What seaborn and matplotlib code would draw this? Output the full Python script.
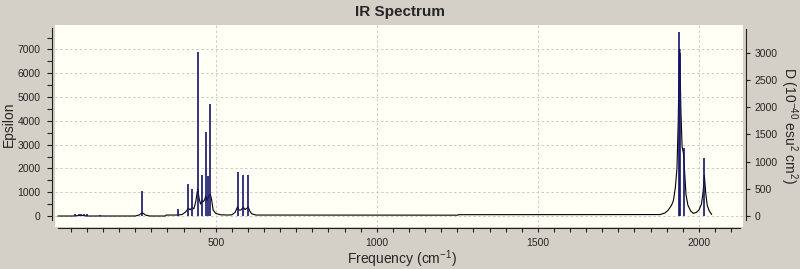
import matplotlib
matplotlib.use("Agg")
import matplotlib.pyplot as plt
import seaborn as sns
from matplotlib.ticker import FixedLocator

# ---- data ----
# stick spectrum: frequency (cm-1) and dipole strength D (1e-40 esu^2 cm^2)
stick_freq = [63, 75, 83, 92, 99, 141, 272, 382, 414, 427, 444, 458, 469, 477, 483,
              568, 586, 601, 1939, 1940, 1953, 2017]
stick_D = [40, 30, 45, 35, 40, 15, 460, 130, 594, 497, 3018, 760, 1540, 736, 2061,
           810, 754, 760, 3380, 3000, 1250, 1073]

# broadened spectrum (Epsilon) key points
curve_freq = [10, 60, 75, 85, 100, 250, 262, 272, 282, 295, 344, 346, 380, 395, 405,
              412, 415, 420, 427, 432, 438, 444, 449, 453, 458, 462, 466, 469, 473, 477,
              480, 483, 487, 492, 500, 515, 540, 550, 560, 565, 568, 572, 578, 583, 586,
              591, 597, 601, 606, 612, 625, 1252, 1254, 1880, 1895, 1905, 1915, 1921,
              1927, 1932, 1936, 1939, 1941, 1944, 1948, 1952, 1956, 1960, 1966, 1975,
              1983, 1992, 2000, 2008, 2013, 2017, 2021, 2026, 2032, 2040]
curve_eps = [0, 0, 20, 25, 0, 0, 40, 140, 40, 0, 0, 40, 40, 60, 150,
             260, 330, 260, 350, 300, 600, 1130, 700, 500, 650, 600, 700, 850, 650, 800,
             850, 920, 700, 250, 110, 50, 40, 50, 150, 300, 390, 250, 250, 330, 360,
             270, 330, 380, 200, 90, 40, 35, 55, 60, 130, 250, 450, 650,
             1200, 2000, 4000, 6900, 7000, 4500, 2900, 2650, 1800, 900, 450, 200,
             110, 150, 250, 500, 1000, 1720, 1000, 450, 220, 60]

eps_ticks = [0, 1000, 2000, 3000, 4000, 5000, 6000, 7000]
d_ticks = [0, 500, 1000, 1500, 2000, 2500, 3000]
freq_ticks = [500, 1000, 1500, 2000]

# ---- style ----
sns.set_style("ticks")
plt.rcParams["font.family"] = ["Liberation Sans", "DejaVu Sans"]
plt.rcParams["mathtext.default"] = "regular"

W, H = 800, 269
fig = plt.figure(figsize=(W / 100, H / 100), dpi=100)
fig.patch.set_facecolor("#D4D0C8")

left, right, top, bottom = 55, 743, 24.5, 226.7
ax = fig.add_axes([left / W, 1 - bottom / H, (right - left) / W, (bottom - top) / H])
ax.set_facecolor("#FFFFF6")

sns.lineplot(x=curve_freq, y=curve_eps, ax=ax, color="black", lw=0.8, sort=False,
             estimator=None)

xlim = (1, 2137)
ylim = (-450, 8050)
ratio = 7000 / 3000 * (163.3 / 166.5)
ax.set_xlim(*xlim)
ax.set_ylim(*ylim)

ax2 = ax.twinx()
ax2.vlines(stick_freq, 0, stick_D, color="#14146e", lw=1.2)
ax2.set_ylim(ylim[0] / ratio, ylim[1] / ratio)
ax2.set_xlim(*xlim)

# grid
ax.set_xticks(freq_ticks)
ax.set_yticks(eps_ticks)
ax.grid(True, color="#CACACA", linestyle=(0, (2.5, 2.5)), lw=0.7)
ax.xaxis.set_minor_locator(FixedLocator(list(range(50, 2150, 50))))
ax.yaxis.set_minor_locator(FixedLocator(list(range(500, 8000, 1000))))
ax2.set_yticks(d_ticks)

# spines
for s in ["top", "right"]:
    ax.spines[s].set_visible(False)
for s in ["top", "left", "bottom"]:
    ax2.spines[s].set_visible(False)
ax.spines["left"].set_position(("outward", 2.4))
ax.spines["bottom"].set_position(("outward", 0.8))
ax2.spines["right"].set_position(("outward", 2.0))
ax.spines["left"].set_bounds(-170, 7900)
ax.spines["bottom"].set_bounds(10, 2128)
ax2.spines["right"].set_bounds(-73, 3435)
for sp in [ax.spines["left"], ax.spines["bottom"], ax2.spines["right"]]:
    sp.set_color("#202020")
    sp.set_linewidth(0.8)

ax.tick_params(axis="both", which="both", direction="out", color="#202020", width=0.8,
               labelsize=7.5)
ax.tick_params(axis="y", which="both", length=3.6, pad=4.3)
ax.tick_params(axis="x", which="both", length=3.0, pad=4.3)
ax2.tick_params(axis="y", which="both", direction="out", length=3.2, width=0.8,
                color="#202020", labelsize=7.5, pad=3.0)

# texts
fig.text(400 / W, 1 - 12 / H, "IR Spectrum", ha="center", va="center",
         fontsize=11, fontweight="bold")
fig.text(9 / W, 1 - 124 / H, "Epsilon", rotation=90, ha="center", va="center", fontsize=10)
fig.text(402 / W, 1 - 259 / H, "Frequency (cm$^{-1}$)", ha="center", va="center",
         fontsize=10)
fig.text(789 / W, 1 - 126 / H, "D (10$^{-40}$ esu$^{2}$ cm$^{2}$)", rotation=270,
         ha="center", va="center", fontsize=10)

fig.savefig("out.png", dpi=100, facecolor=fig.get_facecolor())
